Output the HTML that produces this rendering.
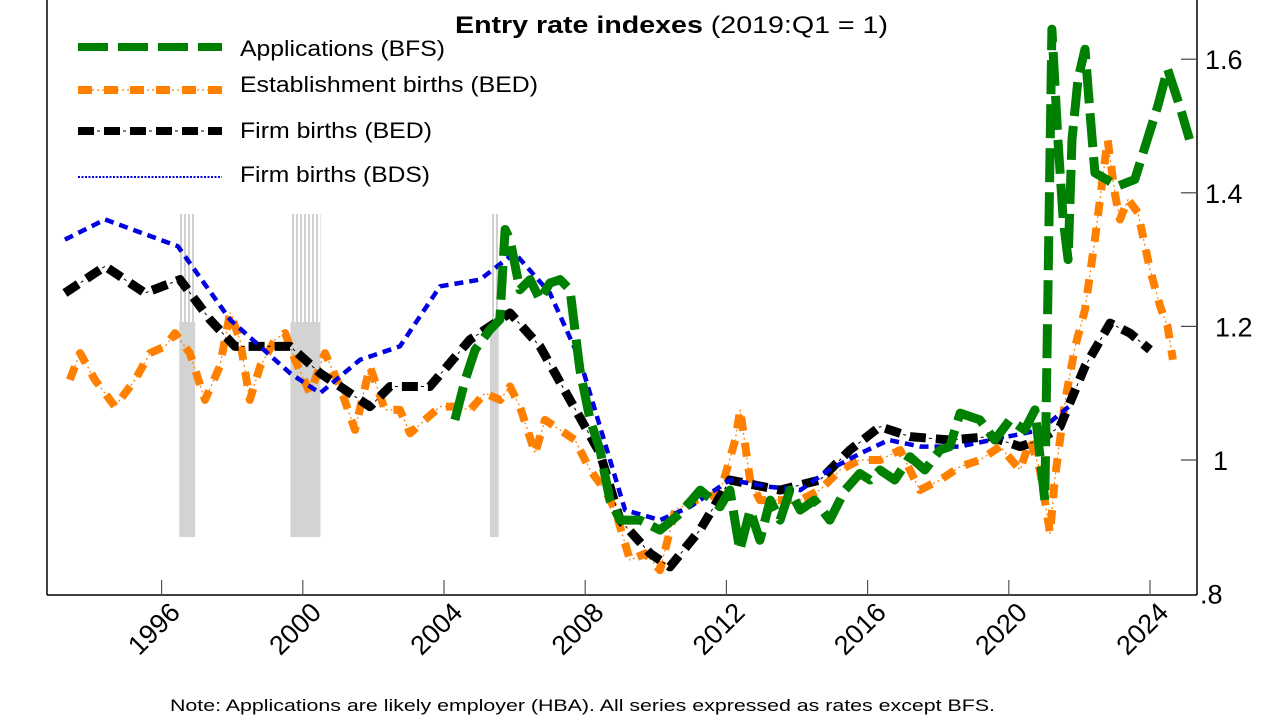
<!DOCTYPE html>
<html><head><meta charset="utf-8"><style>
html,body{margin:0;padding:0;background:#fff;}
svg{display:block;font-family:"Liberation Sans",Arial,sans-serif;}
</style></head><body>
<svg id="chart" width="1280" height="720" viewBox="0 0 1280 720" xmlns="http://www.w3.org/2000/svg">
<defs>
<pattern id="stripe" width="4" height="10" patternUnits="userSpaceOnUse">
<rect width="4" height="10" fill="#fff"/><rect width="2" height="10" fill="#d0d0d0"/>
</pattern>
</defs>
<g id="recessions"></g>
<g id="series"></g>
<line x1="47" y1="0" x2="47" y2="595" stroke="#000" stroke-width="1.5"/>
<line x1="1197" y1="0" x2="1197" y2="595" stroke="#000" stroke-width="1.5"/>
<line x1="47" y1="595" x2="1197" y2="595" stroke="#000" stroke-width="1.5"/>
<g id="xticks"></g>
<g id="yticks"></g>
<text x="455" y="33" font-size="24" textLength="433" lengthAdjust="spacingAndGlyphs"><tspan font-weight="bold">Entry rate indexes</tspan> (2019:Q1 = 1)</text>
<g>
<g>
<line x1="78" y1="47" x2="222" y2="47" stroke="#008000" stroke-width="8" stroke-dasharray="30 10"/>
<text x="240" y="56" font-size="22" textLength="205" lengthAdjust="spacingAndGlyphs">Applications (BFS)</text></g>
<g>
<line x1="78" y1="90" x2="222" y2="90" stroke="#ff8000" stroke-width="8" stroke-dasharray="14 12"/>
<line x1="78" y1="90" x2="222" y2="90" stroke="#ff8000" stroke-width="1.2" stroke-dasharray="2 3" stroke-dashoffset="-14"/>
<text x="240" y="92" font-size="22" textLength="298" lengthAdjust="spacingAndGlyphs">Establishment births (BED)</text></g>
<g>
<line x1="78" y1="131" x2="222" y2="131" stroke="#000" stroke-width="8" stroke-dasharray="16 10"/>
<line x1="78" y1="131" x2="222" y2="131" stroke="#000" stroke-width="1" stroke-dasharray="3 23" stroke-dashoffset="-19"/>
<text x="240" y="138" font-size="22" textLength="192" lengthAdjust="spacingAndGlyphs">Firm births (BED)</text></g>
<g>
<line x1="78" y1="177" x2="222" y2="177" stroke="#0000e0" stroke-width="2" stroke-dasharray="2 1.5"/>
<text x="240" y="182" font-size="22" textLength="190" lengthAdjust="spacingAndGlyphs">Firm births (BDS)</text></g>
</g>
<text x="170" y="711" font-size="17" textLength="825" lengthAdjust="spacingAndGlyphs">Note: Applications are likely employer (HBA). All series expressed as rates except BFS.</text>
</svg>
<script>
const bdsYears=[1993.26,1994.4,1996.46,1997.94,1999.64,2000.49,2001.62,2002.75,2003.89,2005.02,2006.0,2007.0,2007.85,2009.13,2010.12,2010.97,2012.1,2013.2,2014.1,2014.9,2015.8,2016.6,2017.5,2018.6,2019.5,2020.9,2021.7];
const bdsValues=[1.33,1.36,1.32,1.21,1.13,1.10,1.15,1.17,1.26,1.27,1.31,1.25,1.15,0.925,0.91,0.93,0.97,0.96,0.955,0.985,1.01,1.03,1.02,1.02,1.03,1.045,1.08];
const bedFirmYears=[1993.26,1994.4,1995.53,1996.52,1997.37,1998.08,1998.79,1999.64,2000.49,2001.34,2001.9,2002.47,2003.6,2004.73,2005.87,2006.72,2007.57,2008.42,2008.99,2009.84,2010.4,2011.25,2012.1,2013.52,2014.65,2015.5,2016.35,2017.2,2018.33,2019.47,2020.32,2020.88,2021.45,2022.16,2022.87,2023.43,2024.0];
const bedFirmValues=[1.25,1.29,1.25,1.27,1.21,1.17,1.17,1.17,1.13,1.10,1.08,1.11,1.11,1.18,1.22,1.17,1.09,1.01,0.91,0.86,0.84,0.895,0.97,0.955,0.97,1.015,1.05,1.035,1.03,1.035,1.02,1.03,1.05,1.14,1.205,1.19,1.165];
const estYears=[1993.4,1993.69,1994.11,1994.68,1995.25,1995.67,1996.1,1996.38,1996.8,1997.23,1997.65,1997.94,1998.22,1998.5,1998.79,1999.21,1999.5,1999.78,2000.2,2000.63,2001.05,2001.48,2001.9,2002.33,2002.75,2003.04,2003.46,2003.89,2004.31,2004.74,2005.16,2005.59,2005.87,2006.15,2006.58,2006.86,2007.29,2007.71,2008.14,2008.56,2008.85,2009.27,2009.7,2010.12,2010.55,2011.12,2011.82,2012.25,2012.39,2012.67,2012.95,2013.52,2014.09,2014.65,2015.22,2015.78,2016.35,2016.92,2017.48,2018.05,2018.62,2019.18,2019.75,2020.32,2020.6,2020.88,2021.17,2021.3,2021.6,2021.88,2022.16,2022.44,2022.8,2023.0,2023.15,2023.38,2023.66,2024.0,2024.29,2024.5,2024.65];
const estValues=[1.12,1.16,1.12,1.08,1.12,1.16,1.17,1.19,1.16,1.09,1.14,1.22,1.18,1.09,1.14,1.18,1.19,1.15,1.10,1.16,1.11,1.045,1.14,1.075,1.075,1.04,1.06,1.08,1.08,1.075,1.10,1.09,1.11,1.08,1.01,1.06,1.045,1.03,0.985,0.955,0.925,0.85,0.86,0.835,0.925,0.94,0.95,1.03,1.075,0.97,0.94,0.94,0.94,0.955,0.985,1.0,1.0,1.015,0.955,0.97,0.99,1.0,1.02,0.985,1.03,0.985,0.89,0.97,1.09,1.17,1.225,1.33,1.48,1.40,1.36,1.39,1.37,1.285,1.23,1.20,1.15];
const bfsYears=[2004.31,2004.6,2004.88,2005.3,2005.58,2005.73,2005.87,2006.15,2006.44,2006.72,2007.0,2007.29,2007.57,2007.85,2008.14,2008.42,2008.7,2008.99,2009.55,2010.12,2010.69,2011.26,2011.82,2012.1,2012.38,2012.67,2012.95,2013.24,2013.52,2013.8,2014.09,2014.5,2014.93,2015.36,2015.78,2016.07,2016.35,2016.77,2017.2,2017.62,2018.05,2018.33,2018.62,2019.18,2019.6,2020.03,2020.45,2020.74,2021.02,2021.22,2021.39,2021.54,2021.68,2021.79,2021.96,2022.16,2022.3,2022.44,2023.09,2023.57,2024.22,2024.5,2024.84,2025.12];
const bfsValues=[1.06,1.12,1.165,1.195,1.21,1.345,1.33,1.255,1.27,1.24,1.265,1.27,1.255,1.135,1.06,1.015,0.94,0.91,0.91,0.895,0.92,0.955,0.93,0.955,0.865,0.925,0.88,0.94,0.91,0.955,0.925,0.94,0.91,0.955,0.98,0.97,0.985,0.97,1.005,0.985,1.015,1.02,1.07,1.06,1.03,1.06,1.045,1.075,0.94,1.645,1.48,1.36,1.30,1.48,1.57,1.615,1.52,1.43,1.41,1.42,1.53,1.585,1.53,1.48];
const xTickYears=[1996,2000,2004,2008,2012,2016,2020,2024];
const yTickValues=[0.8,1.0,1.2,1.4,1.6];
const yTickLabels=[".8","1","1.2","1.4","1.6"];
const recessionStarts=[1996.5,1999.65,2005.3];
const recessionEnds=[1996.95,2000.5,2005.55];

const NS="http://www.w3.org/2000/svg";
function xs(yr){return 161.6+(yr-1996)*35.3;}
function ys(v){return 460-(v-1)*668;}
function mk(tag,attrs,parent){const e=document.createElementNS(NS,tag);for(const k in attrs)e.setAttribute(k,attrs[k]);parent.appendChild(e);return e;}
const rec=document.getElementById('recessions');
for(let i=0;i<recessionStarts.length;i++){
  const x0=xs(recessionStarts[i]),w=xs(recessionEnds[i])-x0;
  const top=mk('rect',{x:x0,y:214,width:w,height:108,fill:'url(#stripe)'},rec);
  
  
  const b=mk('rect',{x:x0,y:322,width:w,height:215,fill:'#d3d3d3'},rec);
  
  
}
function pts(xa,va){return xa.map((y,i)=>xs(y).toFixed(1)+','+ys(va[i]).toFixed(1)).join(' ');}
const S=document.getElementById('series');
function line(xa,va,attrs,name){
  const p=mk('polyline',Object.assign({points:pts(xa,va),fill:'none','stroke-linejoin':'round'},attrs),S);
  
  
}
line(estYears,estValues,{stroke:'#ff8000','stroke-width':8,'stroke-dasharray':'14 12'},'series-establishment-births-bed');
line(estYears,estValues,{stroke:'#ff8000','stroke-width':1.2,'stroke-dasharray':'2 3','stroke-dashoffset':-14},'series-establishment-births-bed-thin');
line(bedFirmYears,bedFirmValues,{stroke:'#000','stroke-width':9,'stroke-dasharray':'16 10'},'series-firm-births-bed');
line(bedFirmYears,bedFirmValues,{stroke:'#000','stroke-width':1,'stroke-dasharray':'3 23','stroke-dashoffset':-19},'series-firm-births-bed-thin');
line(bdsYears,bdsValues,{stroke:'#0000e0','stroke-width':4.5,'stroke-dasharray':'9 6'},'series-firm-births-bds');
line(bfsYears,bfsValues,{stroke:'#008000','stroke-width':9,'stroke-dasharray':'34 10'},'series-applications-bfs');

const xt=document.getElementById('xticks');
xTickYears.forEach(y=>{
  const x=xs(y);
  const t=mk('line',{x1:x,y1:580,x2:x,y2:595,stroke:'#555','stroke-width':1.2},xt);
  
  
  const lx=x+20, ly=614;
  const l=mk('text',{x:lx,y:ly,'text-anchor':'end','font-size':27,transform:`rotate(-45 ${lx} ${ly})`},xt);
  l.textContent=String(y);
  
  
});
const yt=document.getElementById('yticks');
yTickValues.forEach((v,i)=>{
  const y=ys(v);
  if(v>0.85){
    const t=mk('line',{x1:1181,y1:y,x2:1197,y2:y,stroke:'#444','stroke-width':1.2},yt);
    
    
  }
  const l=mk('text',{x:v<0.85?1200:(v===1?1213:(v>1.1&&v<1.3?1215:1205)),y:y+10,'font-size':27},yt);
  l.textContent=yTickLabels[i];
  
  
});
</script>
</body></html>
